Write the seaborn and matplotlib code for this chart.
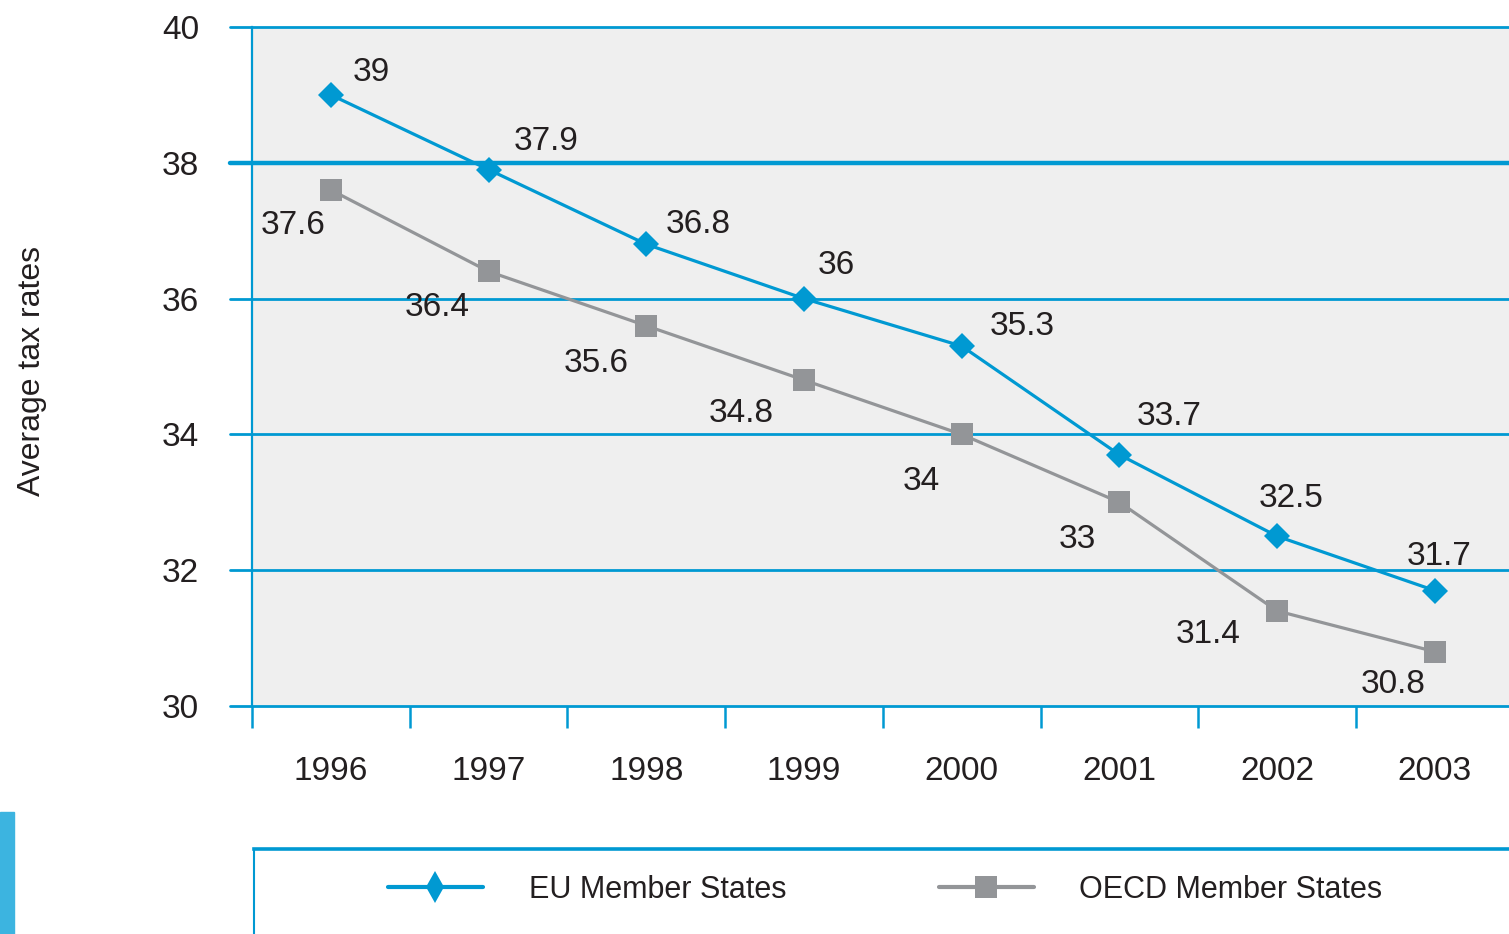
import matplotlib
matplotlib.use("Agg")
import matplotlib.pyplot as plt
from matplotlib.lines import Line2D
from matplotlib.patches import Rectangle
import seaborn as sns
import pandas as pd

years = ["1996", "1997", "1998", "1999", "2000", "2001", "2002", "2003"]
eu_rates = [39, 37.9, 36.8, 36, 35.3, 33.7, 32.5, 31.7]
oecd_rates = [37.6, 36.4, 35.6, 34.8, 34, 33, 31.4, 30.8]
y_ticks = [30, 32, 34, 36, 38, 40]

# label offsets (pixels, relative to marker)
eu_off = [(40, -22), (58, -28), (52, -20), (32, -33), (60, -20), (50, -38), (14, -38), (4, -34)]
oecd_off = [(-38, 36), (-51, 36), (-50, 38), (-63, 33), (-40, 47), (-42, 37), (-69, 24), (-42, 33)]

BLUE = "#0099d2"
GREY = "#939598"
TXT = "#231f20"

sns.set_style("white")
plt.rcParams["font.family"] = ["Liberation Sans", "DejaVu Sans"]

df = pd.DataFrame({
    "x": list(range(len(years))) * 2,
    "rate": eu_rates + oecd_rates,
    "series": ["EU Member States"] * len(years) + ["OECD Member States"] * len(years),
})

W, H = 1509, 934
fig = plt.figure(figsize=(W / 100, H / 100), dpi=100)
ax = fig.add_axes([252 / W, 1 - 706 / H, (W - 252) / W, (706 - 27) / H])
ax.set_facecolor("#efefef")

sns.lineplot(data=df[df.series == "EU Member States"], x="x", y="rate", ax=ax,
             color=BLUE, lw=2.3, marker="D", markersize=13, markeredgewidth=0, zorder=5)
sns.lineplot(data=df[df.series == "OECD Member States"], x="x", y="rate", ax=ax,
             color=GREY, lw=2.3, marker="s", markersize=16, markeredgewidth=0, zorder=4)

ax.set_xlim(-0.5, 7.47)
ax.set_ylim(30, 40)

for y in y_ticks:
    ax.axhline(y, xmin=-0.0175, xmax=1, color=BLUE, lw=3.2 if y == 38 else 2.0,
               clip_on=False, zorder=3)

for spine in ["top", "right", "bottom"]:
    ax.spines[spine].set_visible(False)
ax.spines["left"].set_color(BLUE)
ax.spines["left"].set_linewidth(1.6)

ax.set_yticks(y_ticks)
ax.set_yticklabels([str(v) for v in y_ticks])
ax.tick_params(axis="y", length=0, pad=38, labelsize=24, labelcolor=TXT)

ax.set_xticks(range(len(years)))
ax.set_xticklabels(years)
ax.set_xticks([i - 0.5 for i in range(len(years))], minor=True)
ax.tick_params(axis="x", which="major", bottom=False, length=0, pad=36, labelsize=24, labelcolor=TXT)
ax.tick_params(axis="x", which="minor", bottom=True, length=16, width=1.8, color=BLUE, direction="out")
ax.set_xlabel("")
ax.set_ylabel("")

for i, v in enumerate(eu_rates):
    dx, dy = eu_off[i]
    ax.annotate(f"{v:g}", (i, v), xytext=(dx * 0.72, -dy * 0.72), textcoords="offset points",
                ha="center", va="center", fontsize=24, color=TXT, zorder=6)
for i, v in enumerate(oecd_rates):
    dx, dy = oecd_off[i]
    ax.annotate(f"{v:g}", (i, v), xytext=(dx * 0.72, -dy * 0.72), textcoords="offset points",
                ha="center", va="center", fontsize=24, color=TXT, zorder=6)

fig.text(32 / W, 1 - 371 / H, "Average tax rates", rotation=90, ha="center", va="center",
         fontsize=23, color=TXT)

# blue tab on the left
fig.patches.append(Rectangle((0, 0), 14 / W, (H - 812) / H, transform=fig.transFigure,
                             color="#3cb4e0", zorder=0))

# legend box
lax = fig.add_axes([254 / W, 0, (W - 254) / W, (H - 849) / H])
lax.set_xticks([])
lax.set_yticks([])
lax.set_facecolor("white")
for s in lax.spines.values():
    s.set_color(BLUE)
    s.set_linewidth(1.5)
lax.spines["top"].set_linewidth(2.6)
lax.spines["right"].set_visible(False)
lax.spines["bottom"].set_visible(False)

handles = [
    Line2D([], [], color=BLUE, lw=3, marker="d", markersize=16, markeredgewidth=0),
    Line2D([], [], color=GREY, lw=3, marker="s", markersize=16, markeredgewidth=0),
]
lax.legend(handles, ["EU Member States", "OECD Member States"], ncol=2, frameon=False,
           loc="center left", bbox_to_anchor=((388 - 254) / (W - 254), 0.52),
           borderaxespad=0, borderpad=0, fontsize=22, handlelength=3.1,
           handletextpad=1.5, columnspacing=5.0, labelcolor=TXT)

fig.savefig("out.png", dpi=100)
